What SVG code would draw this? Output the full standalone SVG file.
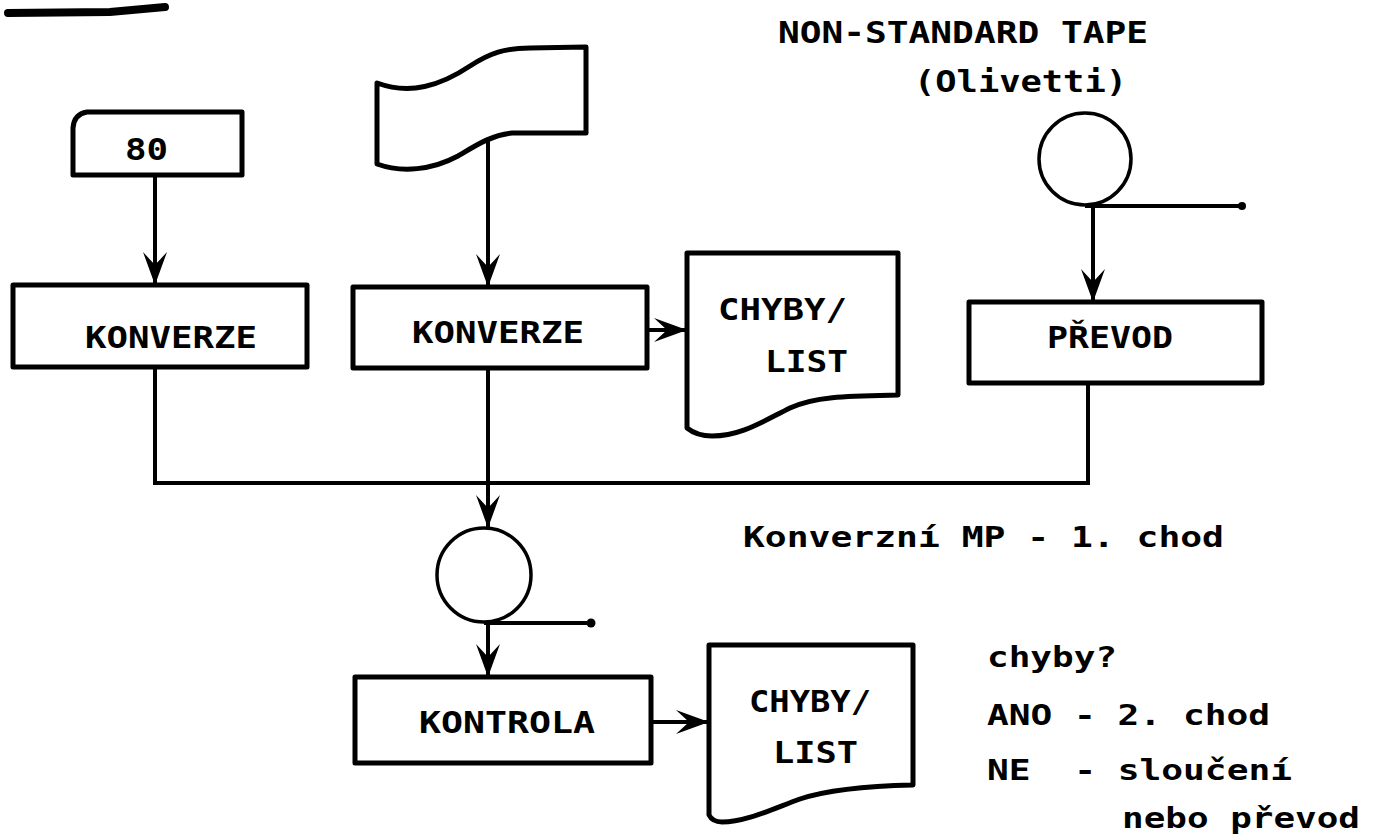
<svg xmlns="http://www.w3.org/2000/svg" width="1375" height="835" viewBox="0 0 1375 835">
<style>
.shape{fill:none;stroke:#000;stroke-width:5;stroke-linejoin:round}
.thin{fill:none;stroke:#000;stroke-width:3.5}
.line{fill:none;stroke:#000;stroke-width:4}
.lbl{font-family:"DejaVu Sans Mono","Liberation Mono",monospace;font-weight:bold;font-size:31px;fill:#000}
.ann{font-family:"DejaVu Sans Mono","Liberation Mono",monospace;font-weight:bold;font-size:28px;fill:#000;white-space:pre}
</style>
<defs>
<marker id="arr" viewBox="-36 -15 38 30" refX="0" refY="0" markerWidth="38" markerHeight="30" markerUnits="userSpaceOnUse" orient="auto">
<path d="M0,0 L-33,-12 L-20,0 L-33,12 Z" fill="#000"/>
</marker>
</defs>
<rect x="0" y="0" width="1375" height="835" fill="#fff"/>
<path d="M8,13 L110,12 L165,7" fill="none" stroke="#000" stroke-width="8" stroke-linecap="round"/>

<g id="connectors">
<line class="line" x1="155" y1="175" x2="155" y2="285" marker-end="url(#arr)"/>
<line class="line" x1="488" y1="138" x2="488" y2="287" marker-end="url(#arr)"/>
<line class="line" x1="647" y1="330" x2="687" y2="330" marker-end="url(#arr)"/>
<line class="line" x1="1093" y1="206" x2="1093" y2="302" marker-end="url(#arr)"/>
<path class="line" d="M155,367 V483 H1088 V383"/>
<line class="line" x1="488" y1="368" x2="488" y2="528" marker-end="url(#arr)"/>
<line class="line" x1="488" y1="622" x2="488" y2="677" marker-end="url(#arr)"/>
<line class="line" x1="652" y1="722" x2="709" y2="722" marker-end="url(#arr)"/>
</g>

<g id="card80">
<path class="shape" d="M87,112 H242 V175 H73 V128 Q74,114 87,112 Z"/>
<text class="lbl" x="125" y="160" textLength="43" lengthAdjust="spacingAndGlyphs">80</text>
</g>

<g id="tape">
<path class="shape" d="M377,83 C410,95 440,86 470,66 C490,53 505,48 530,48 L586,47 V133 L512,133 C492,135 478,144 458,156 C432,170 402,173 377,164 Z"/>
</g>

<g id="konverze1">
<rect class="shape" x="13" y="285" width="294" height="82"/>
<text class="lbl" x="85" y="348" textLength="172" lengthAdjust="spacingAndGlyphs">KONVERZE</text>
</g>

<g id="konverze2">
<rect class="shape" x="353" y="287" width="294" height="81"/>
<text class="lbl" x="412" y="343" textLength="172" lengthAdjust="spacingAndGlyphs">KONVERZE</text>
</g>

<g id="chyby1">
<path class="shape" d="M687,253 H898 V395 C850,396 815,396 790,408 C760,423 740,436 712,436 C700,436 692,432 687,428 Z"/>
<text class="lbl" x="718" y="320" textLength="129" lengthAdjust="spacingAndGlyphs">CHYBY/</text>
<text class="lbl" x="765" y="372" textLength="83" lengthAdjust="spacingAndGlyphs">LIST</text>
</g>

<g id="tape-olivetti">
<text class="lbl" x="778" y="43" textLength="370" lengthAdjust="spacingAndGlyphs">NON-STANDARD TAPE</text>
<text class="lbl" x="914" y="92" textLength="213" lengthAdjust="spacingAndGlyphs">(Olivetti)</text>
<circle class="thin" cx="1085" cy="159" r="46"/>
<line class="line" x1="1085" y1="206" x2="1242" y2="206"/>
<circle cx="1242" cy="206" r="4" fill="#000"/>
</g>

<g id="prevod">
<rect class="shape" x="969" y="302" width="293" height="81"/>
<text class="lbl" x="1047" y="348" textLength="126" lengthAdjust="spacingAndGlyphs">PŘEVOD</text>
</g>

<g id="tape-mp">
<circle class="thin" cx="484" cy="575" r="47"/>
<line class="line" x1="484" y1="623" x2="591" y2="623"/>
<circle cx="591" cy="623" r="4.5" fill="#000"/>
</g>

<g id="kontrola">
<rect class="shape" x="355" y="677" width="296" height="86"/>
<text class="lbl" x="419" y="733" textLength="176" lengthAdjust="spacingAndGlyphs">KONTROLA</text>
</g>

<g id="chyby2">
<path class="shape" d="M709,645 H913 V785 C870,786 830,789 800,799 C770,810 745,822 722,822 C715,822 711,819 709,815 Z"/>
<text class="lbl" x="749" y="712" textLength="122" lengthAdjust="spacingAndGlyphs">CHYBY/</text>
<text class="lbl" x="773" y="763" textLength="85" lengthAdjust="spacingAndGlyphs">LIST</text>
</g>

<g id="notes">
<text class="ann" x="743" y="547" textLength="481" lengthAdjust="spacingAndGlyphs">Konverzní MP - 1. chod</text>
<text class="ann" x="987" y="667" textLength="130" lengthAdjust="spacingAndGlyphs">chyby?</text>
<text class="ann" x="987" y="725" textLength="283" lengthAdjust="spacingAndGlyphs" xml:space="preserve">ANO - 2. chod</text>
<text class="ann" x="987" y="780" textLength="305" lengthAdjust="spacingAndGlyphs" xml:space="preserve">NE  - sloučení</text>
<text class="ann" x="1122" y="828" textLength="238" lengthAdjust="spacingAndGlyphs">nebo převod</text>
</g>
</svg>
